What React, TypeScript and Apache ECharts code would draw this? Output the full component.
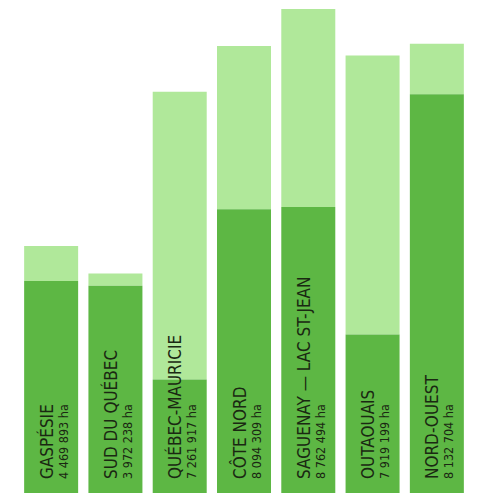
import React, { useEffect, useRef } from "react";
import * as echarts from "echarts";

const categories = [
  "GASPÉSIE",
  "SUD DU QUÉBEC",
  "QUÉBEC-MAURICIE",
  "CÔTE NORD",
  "SAGUENAY — LAC ST-JEAN",
  "OUTAOUAIS",
  "NORD-OUEST",
];
const totals = [4469893, 3972238, 7261917, 8094309, 8762494, 7919199, 8132704];
const darkValues = [3839000, 3754000, 2054000, 5136000, 5178000, 2870000, 7221000];
const lightValues = totals.map((t, i) => t - darkValues[i]);

const fmt = (n: number) => String(n).replace(/\B(?=(\d{3})+(?!\d))/g, " ");
const FONT = "'DejaVu Sans Condensed', 'Liberation Sans', Arial, sans-serif";

export default function App() {
  const ref = useRef<HTMLDivElement>(null);
  useEffect(() => {
    if (!ref.current) return;
    const chart = echarts.init(ref.current, undefined, { renderer: "svg" });
    chart.setOption({
      animation: false,
      backgroundColor: "#ffffff",
      grid: { left: 19, right: 9, top: 0, bottom: 0 },
      xAxis: {
        type: "category",
        data: categories,
        show: false,
      },
      yAxis: {
        type: "value",
        min: 0,
        max: 8925000,
        show: false,
        splitLine: { show: false },
      },
      series: [
        {
          type: "bar",
          stack: "a",
          z: 3,
          barWidth: 54,
          data: darkValues,
          itemStyle: { color: "#5db744" },
          label: {
            show: true,
            position: "insideBottom",
            distance: 14,
            rotate: 90,
            align: "left",
            verticalAlign: "middle",
            offset: [0, 3],
            formatter: (p: any) =>
              `{n|${p.name}}\n{v|${fmt(totals[p.dataIndex])} ha}`,
            rich: {
              n: {
                fontFamily: FONT,
                fontSize: 17,
                lineHeight: 18,
                color: "#1a2812",
              },
              v: {
                fontFamily: FONT,
                fontSize: 12.5,
                lineHeight: 15,
                color: "#1a2812",
              },
            },
          },
        },
        {
          type: "bar",
          stack: "a",
          z: 2,
          barWidth: 54,
          data: lightValues,
          itemStyle: { color: "#b0e89a" },
        },
      ],
    });
    return () => chart.dispose();
  }, []);
  return (
    <div
      ref={ref}
      style={{ position: "absolute", left: 0, top: 0, width: 478, height: 493 }}
    />
  );
}
